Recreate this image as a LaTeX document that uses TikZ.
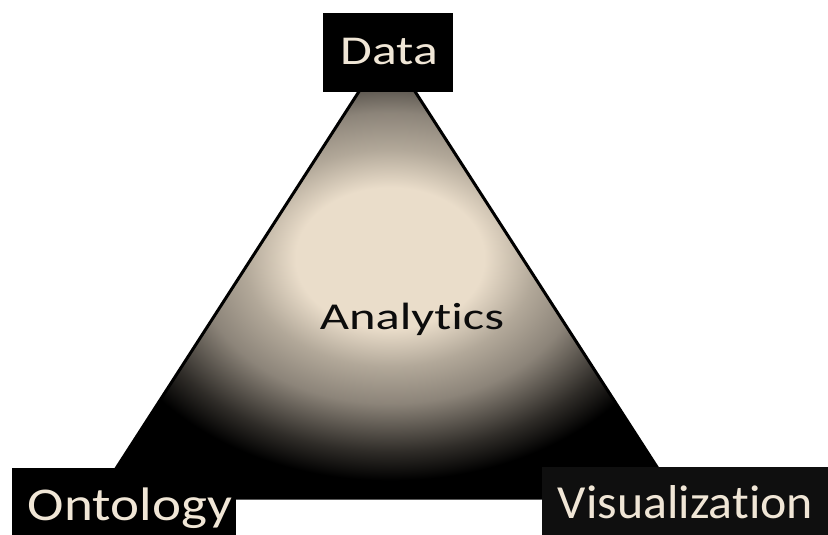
\documentclass[tikz,border=0pt]{standalone}
\usepackage{fontspec}
\setmainfont{Carlito}[Ligatures={NoCommon,NoContextual}]
\definecolor{lightc}{RGB}{234,221,202}
\definecolor{midac}{RGB}{178,168,153}
\definecolor{midbc}{RGB}{140,132,121}
\definecolor{midcc}{RGB}{47,44,40}
\definecolor{labelc}{RGB}{240,230,214}
\definecolor{inkc}{RGB}{12,12,12}
\pgfdeclareradialshading{glow}{\pgfpoint{0bp}{0bp}}{%
  color(0bp)=(lightc); color(4.4bp)=(lightc); color(6.8bp)=(midac); color(9.1bp)=(midbc); color(12.1bp)=(midcc); color(13.9bp)=(black); color(25bp)=(black); color(50bp)=(black)}
\tikzset{
  labelbox/.style={draw=none, fill=black, inner sep=0pt, outer sep=0pt, rectangle},
  labeltext/.style={text=labelc, inner sep=0pt, anchor=base},
  centertext/.style={text=inkc, inner sep=0pt, anchor=base},
}
\begin{document}
\begin{tikzpicture}[x=1pt, y=-1pt]
\useasboundingbox (0,0) rectangle (828,535);
\coordinate (apex) at (387,48);
\coordinate (bl) at (97,498);
\coordinate (br) at (677,498);
\fill[black] (apex) -- (bl) -- (br) -- cycle;
\begin{scope}
  \clip (apex) -- (bl) -- (br) -- cycle;
  \shade[shading=glow] (390,258) ellipse [x radius=536pt, y radius=400pt];
\end{scope}
\draw[black, line width=3pt, line join=miter] (apex) -- (bl) -- (br) -- cycle;
% boxes
\node[labelbox, minimum width=130pt, minimum height=79pt] (databox) at (388,52.5) {};
\node[labelbox, minimum width=224pt, minimum height=70pt, anchor=north west] (ontbox) at (11.5,467.5) {};
\node[labelbox, fill=black!94!white, minimum width=290pt, minimum height=70pt, anchor=north west] (visbox) at (541.5,466.7) {};
% texts
\node[labeltext] (data) at (389,64.3) {\fontsize{41}{49}\selectfont\scalebox{1.26}[1]{Data}};
\node[labeltext] (ont) at (130,520.5) {\fontsize{47}{56}\selectfont\scalebox{1.17}[1]{Ontology}};
\node[labeltext] (vis) at (685.5,518.5) {\fontsize{47.5}{56}\selectfont\scalebox{1.05}[1]{Visualizat\kern0pt ion}};
\node[centertext] (analytics) at (412,329.3) {\fontsize{38}{45}\selectfont\scalebox{1.33}[1]{Analyt\kern0pt ics}};
\end{tikzpicture}
\end{document}
